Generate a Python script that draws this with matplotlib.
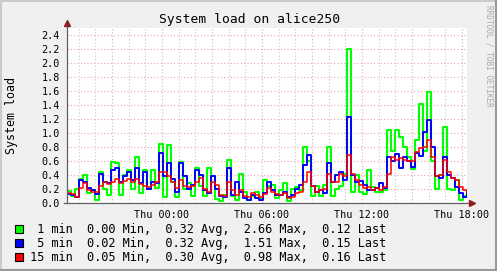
import matplotlib
matplotlib.use('Agg')
import matplotlib.pyplot as plt
from matplotlib.lines import Line2D
import numpy as np

# samples every 14.4 min, starting Wed ~18:18 (hours relative to Thu 00:00)
t_start = -5.7
t_step = 0.24

load_1min = [0.17, 0.10, 0.20, 0.35, 0.40, 0.15, 0.18, 0.04, 0.45, 0.20, 0.12, 0.59, 0.57, 0.11, 0.40, 0.47, 0.20,
             0.66, 0.15, 0.47, 0.20, 0.47, 0.22, 0.85, 0.09, 0.83, 0.30, 0.08, 0.59, 0.20, 0.28, 0.10, 0.50, 0.25,
             0.10, 0.50, 0.38, 0.06, 0.03, 0.12, 0.61, 0.10, 0.04, 0.42, 0.16, 0.04, 0.10, 0.16, 0.06, 0.33, 0.25,
             0.26, 0.07, 0.18, 0.28, 0.03, 0.20, 0.23, 0.19, 0.80, 0.60, 0.10, 0.25, 0.10, 0.26, 0.80, 0.10, 0.20,
             0.24, 0.42, 2.20, 0.16, 0.40, 0.16, 0.13, 0.47, 0.23, 0.16, 0.16, 0.19, 1.04, 0.75, 1.04, 0.95, 0.80,
             0.66, 0.48, 0.90, 1.42, 0.75, 1.59, 0.60, 0.20, 0.40, 1.09, 0.20, 0.19, 0.33, 0.04, 0.10, 0.19]
load_5min = [0.13, 0.12, 0.09, 0.33, 0.30, 0.21, 0.19, 0.13, 0.42, 0.30, 0.29, 0.47, 0.50, 0.30, 0.38, 0.45, 0.33,
             0.50, 0.28, 0.45, 0.20, 0.30, 0.28, 0.71, 0.38, 0.57, 0.35, 0.16, 0.57, 0.38, 0.20, 0.26, 0.47, 0.40,
             0.19, 0.14, 0.38, 0.20, 0.10, 0.09, 0.50, 0.12, 0.30, 0.16, 0.07, 0.05, 0.11, 0.07, 0.05, 0.14, 0.30,
             0.18, 0.12, 0.11, 0.16, 0.09, 0.12, 0.20, 0.26, 0.55, 0.69, 0.24, 0.16, 0.19, 0.14, 0.57, 0.30, 0.40,
             0.45, 0.33, 1.23, 0.40, 0.30, 0.32, 0.26, 0.18, 0.19, 0.21, 0.28, 0.21, 0.66, 0.60, 0.70, 0.50, 0.66,
             0.60, 0.52, 0.71, 0.67, 1.02, 1.19, 0.80, 0.38, 0.36, 0.66, 0.40, 0.36, 0.23, 0.14, 0.09, 0.16]
load_15min = [0.14, 0.13, 0.08, 0.22, 0.28, 0.19, 0.16, 0.16, 0.24, 0.30, 0.27, 0.30, 0.34, 0.28, 0.32, 0.35, 0.30,
              0.35, 0.27, 0.24, 0.23, 0.26, 0.30, 0.45, 0.44, 0.38, 0.30, 0.21, 0.33, 0.24, 0.23, 0.25, 0.30, 0.36,
              0.20, 0.16, 0.30, 0.26, 0.11, 0.10, 0.30, 0.19, 0.12, 0.19, 0.10, 0.09, 0.14, 0.12, 0.08, 0.13, 0.22,
              0.16, 0.13, 0.11, 0.14, 0.07, 0.09, 0.14, 0.16, 0.30, 0.45, 0.24, 0.16, 0.19, 0.20, 0.42, 0.30, 0.30,
              0.42, 0.38, 0.69, 0.42, 0.33, 0.26, 0.21, 0.23, 0.19, 0.21, 0.19, 0.23, 0.42, 0.66, 0.62, 0.64, 0.62,
              0.60, 0.60, 0.73, 0.78, 0.80, 0.90, 0.66, 0.38, 0.40, 0.61, 0.45, 0.36, 0.33, 0.23, 0.19, 0.16]

series_names = [' 1 min', ' 5 min', '15 min']
series_colors = ['#00FF00', '#0000FF', '#FF0000']
stats_min = ['0.00', '0.02', '0.05']
stats_avg = ['0.32', '0.32', '0.30']
stats_max = ['2.66', '1.51', '0.98']
stats_last = ['0.12', '0.15', '0.16']

xtick_hours = [0, 6, 12, 18]
xtick_labels = ['Thu 00:00', 'Thu 06:00', 'Thu 12:00', 'Thu 18:00']

hours = t_start + np.arange(len(load_1min)) * t_step

W, H = 497, 271
fig = plt.figure(figsize=(W / 100, H / 100), dpi=100, facecolor='#F0F0F0')

# 3d border like rrdtool
fig.add_artist(Line2D([0, 1], [1 - 1 / H, 1 - 1 / H], color='#CBCBCB', lw=1.5, transform=fig.transFigure))
fig.add_artist(Line2D([0.5 / W, 0.5 / W], [0, 1], color='#CBCBCB', lw=1.5, transform=fig.transFigure))
fig.add_artist(Line2D([0, 1], [1 / H, 1 / H], color='#999999', lw=1.5, transform=fig.transFigure))
fig.add_artist(Line2D([1 - 1 / W, 1 - 1 / W], [0, 1], color='#999999', lw=1.5, transform=fig.transFigure))

ax = fig.add_axes([67 / W, (H - 203) / H, 400 / W, 175 / H])
ax.set_facecolor('white')
for s in ax.spines.values():
    s.set_visible(False)

ax.set_xlim(t_start, t_start + 24)
ax.set_ylim(0, 2.5)

# grid: minor hourly grey, major every 3 h red, horizontal every 0.2
for h in np.arange(np.ceil(t_start), t_start + 24):
    if h % 3 == 0:
        ax.axvline(h, color='#E8A8A8', lw=0.8, ls=(0, (1, 2)), zorder=0)
    else:
        ax.axvline(h, color='#C8C8C8', lw=0.8, ls=(0, (1, 2)), zorder=0)
yticks = np.arange(0, 2.41, 0.2)
for v in yticks[1:]:
    ax.axhline(v, color='#E8A8A8', lw=0.8, ls=(0, (1, 2)), zorder=0)

ax.plot(hours, load_1min, drawstyle='steps-post', color=series_colors[0], lw=1.5, zorder=2)
ax.plot(hours, load_5min, drawstyle='steps-post', color=series_colors[1], lw=1.4, zorder=3)
ax.plot(hours, load_15min, drawstyle='steps-post', color=series_colors[2], lw=1.1, zorder=4)

ax.set_yticks(yticks)
ax.set_yticklabels(['%.1f' % v for v in yticks])
ax.set_xticks(xtick_hours)
ax.set_xticklabels(xtick_labels)
ax.tick_params(length=0, labelsize=7.3, labelcolor='black', pad=5)
for lab in ax.get_xticklabels() + ax.get_yticklabels():
    lab.set_family('DejaVu Sans Mono')

# axes with arrows
ax.plot([0, 0], [0, 1.02], transform=ax.transAxes, color='#606060', lw=0.9, clip_on=False, zorder=5)
ax.plot([-0.008, 1.005], [0, 0], transform=ax.transAxes, color='#606060', lw=0.9, clip_on=False, zorder=5)
ax.plot([0], [1.03], transform=ax.transAxes, marker='^', ms=4, color='#902020', clip_on=False, zorder=6)
ax.plot([1.012], [0], transform=ax.transAxes, marker='>', ms=4, color='#902020', clip_on=False, zorder=6)

fig.text(250 / W, 1 - 20 / H, 'System load on alice250', ha='center', va='center',
         family='DejaVu Sans Mono', fontsize=9.4)
fig.text(12 / W, 1 - 115 / H, 'System load', ha='center', va='center', rotation=90,
         family='DejaVu Sans Mono', fontsize=8.4)
fig.text(489 / W, 1 - 5 / H, 'RRDTOOL / TOBI OETIKER', ha='center', va='top', rotation=270,
         family='DejaVu Sans Mono', fontsize=5.6, color='#A8A8A8')

# legend
for k in range(3):
    y = 1 - (229 + 14 * k) / H
    fig.patches.append(plt.Rectangle((15 / W, y - 4 / H), 8 / W, 8 / H, transform=fig.transFigure,
                                     facecolor=series_colors[k], edgecolor='black', lw=0.8))
    txt = '%s  %s Min,  %s Avg,  %s Max,  %s Last' % (series_names[k], stats_min[k], stats_avg[k],
                                                       stats_max[k], stats_last[k])
    fig.text(30 / W, y, txt, ha='left', va='center', family='DejaVu Sans Mono', fontsize=8.6)

fig.savefig('out.png', dpi=100, facecolor=fig.get_facecolor())
